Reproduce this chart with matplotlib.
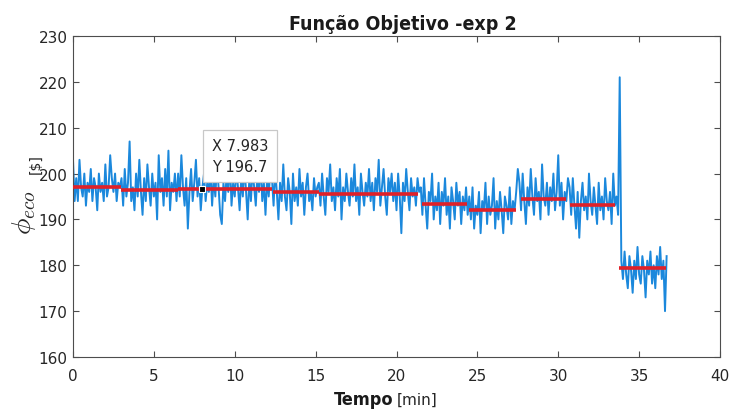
import numpy as np
import matplotlib.pyplot as plt

# amostragem do sinal [min]
dt = 0.1

# função objetivo por degrau de operação
seg1 = [203, 194, 199, 194, 203, 197, 195, 200, 193, 198, 196, 201, 194, 199, 197,
        192, 200, 196, 198, 194, 202, 195, 197, 204, 199, 196, 200, 194, 198, 197]
seg2 = [199, 193, 201, 195, 198, 207, 194, 197, 192, 200, 195, 203, 196, 191, 199,
        194, 202, 197, 193, 200, 195, 198, 190, 204, 196, 199, 193, 201, 195, 205,
        192, 198, 196, 200, 194]
seg3 = [200, 195, 204, 197, 193, 199, 188, 196, 201, 194,
        198, 203, 195, 199, 192, 197, 200, 194, 198, 196,
        201, 193, 199, 195, 202, 197, 191, 189, 198, 194,
        200, 196, 203, 193, 198, 195, 201, 197, 192, 199,
        195, 202, 196, 190, 199, 194, 201, 197, 193, 200,
        196, 203, 194, 198, 191, 199, 195, 201]
seg4 = [199, 193, 201, 196, 190, 198, 194, 202, 195, 192, 199, 196, 189, 200, 194,
        197, 193, 201, 195, 198, 191, 197, 200, 194, 196, 192, 199, 195, 197]
seg5 = [198, 193, 200, 195, 191, 199, 196, 202, 194, 197,
        192, 199, 195, 201, 190, 197, 194, 200, 196, 193,
        199, 195, 202, 194, 197, 191, 200, 196, 193, 198,
        195, 201, 194, 198, 192, 199, 196, 203, 193, 197,
        201, 195, 191, 199, 196, 200, 194, 198, 192, 200,
        195, 187, 198, 194, 201, 196, 192, 199, 195, 197,
        193, 199, 196]
seg6 = [197, 191, 199, 193, 188, 196, 194, 200, 190, 195, 192, 198, 189, 196, 193,
        199, 191, 195, 188, 197, 194, 190, 198, 193, 196, 189, 195, 192, 197, 191]
seg7 = [195, 190, 197, 188, 193, 191, 196, 187, 194, 192, 198, 189, 195, 191, 193,
        199, 188, 194, 190, 196, 192, 187, 195, 193, 190, 197, 189, 194, 192, 196, 201]
seg8 = [198, 192, 200, 194, 189, 197, 193, 201, 195, 191, 199, 194, 196, 190, 202,
        195, 193, 198, 191, 197, 194, 200, 192, 196, 204, 193, 198, 190, 196, 194, 199]
seg9 = [197, 191, 199, 193, 188, 196, 186, 194, 198, 192, 195, 190, 200, 194, 191,
        197, 193, 189, 198, 192, 195, 190, 199, 194, 192, 196, 189, 200, 193, 195, 191]
pico = [221]
seg10 = [181, 177, 183, 178, 175, 182, 179, 174, 181, 177, 184, 178, 176, 182, 179,
         173, 181, 178, 183, 176, 180, 175, 182, 178, 184, 177, 181, 170, 182]

phi_eco = np.array(seg1 + seg2 + seg3 + seg4 + seg5 + seg6 + seg7 + seg8 + seg9
                   + pico + seg10, dtype=float)
tempo = np.arange(len(phi_eco)) * dt

# média em cada degrau
med_ini = [0.0, 2.97, 6.49, 12.36, 15.2, 21.56, 24.5, 27.7, 30.7, 33.76]
med_fim = [2.97, 6.49, 12.3, 15.2, 21.3, 24.34, 27.4, 30.5, 33.5, 36.66]
med_val = [197.0, 196.5, 196.7, 195.9, 195.6, 193.4, 192.1, 194.4, 193.2, 179.3]

# data tip
tip_x = 7.983
tip_y = 196.7

xticks = [0, 5, 10, 15, 20, 25, 30, 35, 40]
yticks = [160, 170, 180, 190, 200, 210, 220, 230]

fig = plt.figure(figsize=(7.29, 4.14), dpi=100)
ax = fig.add_axes([73 / 729, 56 / 414, 647 / 729, 321 / 414])

ax.plot(tempo, phi_eco, color='#1b88dc', lw=1.4)
ax.hlines(med_val, med_ini, med_fim, colors='#e02028', lw=2.6, zorder=3)

ax.plot(tip_x, tip_y, 's', ms=5, mfc='black', mec='white', mew=0.8, zorder=5)
ax.annotate(f'X {tip_x:.3f}\nY {tip_y:.1f}', xy=(tip_x, tip_y),
            xytext=(10, 15), textcoords='offset pixels', ha='left', va='bottom',
            fontsize=10.5, color='#262626', linespacing=1.45, zorder=6,
            bbox=dict(boxstyle='square,pad=0.6', fc='white', ec='#c8c8c8', lw=0.9))

ax.set_xlim(0, 40)
ax.set_ylim(160, 230)
ax.set_xticks(xticks)
ax.set_yticks(yticks)
ax.tick_params(direction='in', top=True, right=True, length=4, width=0.8,
               color='#4d4d4d', labelcolor='#262626', labelsize=11)
ax.tick_params(axis='x', pad=8)
ax.tick_params(axis='y', pad=4)
for sp in ax.spines.values():
    sp.set_color('#4d4d4d')
    sp.set_linewidth(0.8)

ax.set_title('Função Objetivo -exp 2', fontsize=14, fontweight='bold',
             family='DejaVu Sans', fontstretch='condensed', pad=5, x=0.51,
             color='#1a1a1a')

# rótulos dos eixos
fig.text(393.5 / 729, 0.022, 'Tempo', fontsize=13, fontweight='bold',
         fontstretch='condensed', ha='right', va='baseline', color='#1a1a1a')
fig.text(397 / 729, 0.022, '[min]', fontsize=11, ha='left', va='baseline',
         color='#262626')
fig.text(24 / 729, (414 - 212) / 414, r'$\phi_{eco}$', rotation=90, fontsize=20,
         math_fontfamily='cm', ha='center', va='center', color='#262626')
fig.text(36 / 729, (414 - 164) / 414, '[$]', rotation=90, fontsize=10,
         ha='center', va='center', color='#262626')

fig.savefig('out.png', dpi=100)
